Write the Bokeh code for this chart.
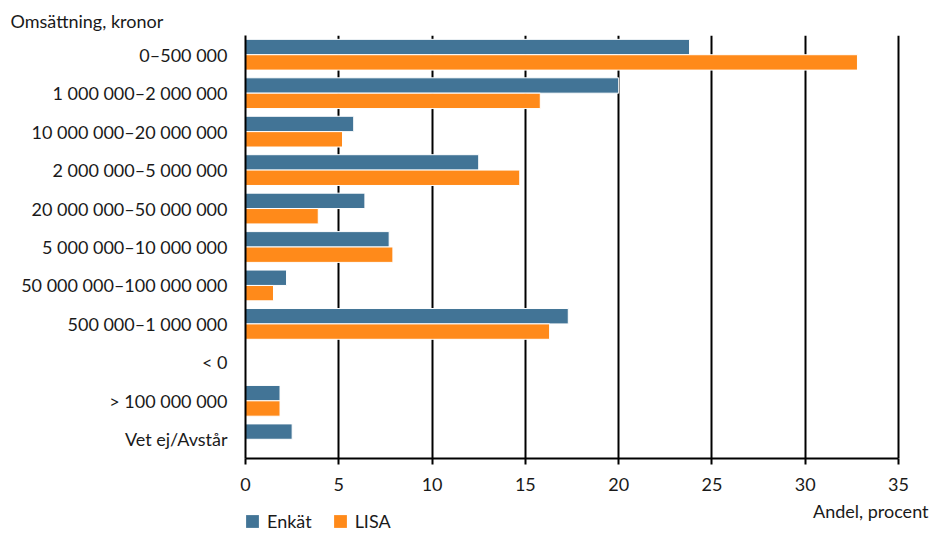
from bokeh.plotting import figure
from bokeh.layouts import column
from bokeh.models import (ColumnDataSource, FactorRange, Label, Legend, LegendItem,
                          Range1d, FixedTicker)
from bokeh.transform import dodge
from bokeh.embed import file_html
from bokeh.resources import INLINE

categories = ["0–500 000", "1 000 000–2 000 000", "10 000 000–20 000 000",
              "2 000 000–5 000 000", "20 000 000–50 000 000", "5 000 000–10 000 000",
              "50 000 000–100 000 000", "500 000–1 000 000", "< 0",
              "> 100 000 000", "Vet ej/Avstår"]
enkat = [23.8, 20.0, 5.8, 12.5, 6.4, 7.7, 2.2, 17.3, 0.0, 1.85, 2.5]
lisa = [32.8, 15.8, 5.2, 14.7, 3.9, 7.9, 1.5, 16.3, 0.0, 1.85, 0.0]
x_ticks = [0, 5, 10, 15, 20, 25, 30, 35]
series_names = ["Enkät", "LISA"]
y_title = "Omsättning, kronor"
x_title = "Andel, procent"

FONT = "Lato"
FS = "18px"
TXT = "#1a1a1a"
BLUE = "#427496"
ORANGE = "#FF8A1A"

# layout geometry (pixels)
W = 931
LEFT = 245
AXIS_PX = 653          # pixel length of the 0..35 axis
X_MAX = 35
x_end = X_MAX * (W - LEFT) / AXIS_PX   # frame runs to the right edge; axis line stops at 35

src = ColumnDataSource(dict(cat=categories, enkat=enkat, lisa=lisa))

p = figure(width=W, height=500, output_backend="svg", toolbar_location=None,
           y_range=FactorRange(factors=list(reversed(categories))),
           x_range=Range1d(0, x_end),
           min_border_left=LEFT, min_border_right=0, min_border_top=35, min_border_bottom=42)
p.outline_line_color = None

p.title.text = y_title
p.title.align = "left"
p.title.offset = -235
p.title.standoff = 8
p.title.text_font = FONT
p.title.text_font_size = FS
p.title.text_font_style = "normal"
p.title.text_color = TXT

p.hbar(y=dodge("cat", 0.2, range=p.y_range), right="enkat", left=0, height=0.4,
       source=src, fill_color=BLUE, line_color="white", line_width=1)
p.hbar(y=dodge("cat", -0.2, range=p.y_range), right="lisa", left=0, height=0.4,
       source=src, fill_color=ORANGE, line_color="white", line_width=1)

p.xaxis.ticker = FixedTicker(ticks=x_ticks)
p.xaxis.bounds = (0, X_MAX)
p.xaxis.axis_line_color = "black"
p.xaxis.axis_line_width = 2
p.xaxis.major_tick_line_color = "black"
p.xaxis.major_tick_line_width = 2
p.xaxis.major_tick_out = 6
p.xaxis.major_tick_in = 0
p.xaxis.minor_tick_line_color = None
p.xaxis.major_label_standoff = 13
p.xaxis.major_label_text_font = FONT
p.xaxis.major_label_text_font_size = FS
p.xaxis.major_label_text_color = TXT

p.yaxis.axis_line_color = "black"
p.yaxis.axis_line_width = 2
p.yaxis.major_tick_line_color = None
p.yaxis.minor_tick_line_color = None
p.yaxis.major_label_standoff = 12
p.yaxis.major_label_text_font = FONT
p.yaxis.major_label_text_font_size = FS
p.yaxis.major_label_text_color = TXT

p.xgrid.ticker = FixedTicker(ticks=x_ticks)
p.xgrid.grid_line_color = "black"
p.xgrid.grid_line_width = 2
p.ygrid.grid_line_color = None
p.xgrid.level = "underlay"

# bottom strip: x-axis title and legend
q = figure(width=W, height=37, output_backend="svg", toolbar_location=None,
           x_range=Range1d(0, 1), y_range=Range1d(0, 1),
           min_border_left=LEFT, min_border_right=0,
           min_border_top=0, min_border_bottom=0)
q.axis.visible = False
q.grid.visible = False
q.outline_line_color = None
# legend swatches only (kept outside the visible y range)
swatch = ColumnDataSource(dict(y=[-5], right=[0]))
l1 = q.hbar(y="y", right="right", height=0.5, source=swatch, fill_color=BLUE, line_color=None)
l2 = q.hbar(y="y", right="right", height=0.5, source=swatch, fill_color=ORANGE, line_color=None)

q.add_layout(Label(x=W - 3 - LEFT, y=27, x_units="screen", y_units="screen",
                   text=x_title, text_font=FONT, text_font_size=FS,
                   text_color=TXT, text_align="right", text_baseline="middle"))

legend = Legend(items=[LegendItem(label=series_names[0], renderers=[l1]),
                       LegendItem(label=series_names[1], renderers=[l2])],
                orientation="horizontal", location=(-1, 5),
                glyph_width=16, glyph_height=16, label_standoff=7, spacing=20,
                padding=0, margin=0, border_line_color=None, background_fill_alpha=0,
                label_text_font=FONT, label_text_font_size=FS, label_text_color=TXT)
q.add_layout(legend, "center")

layout = column(p, q, spacing=0)
open("out.html", "w").write(file_html(layout, INLINE))
